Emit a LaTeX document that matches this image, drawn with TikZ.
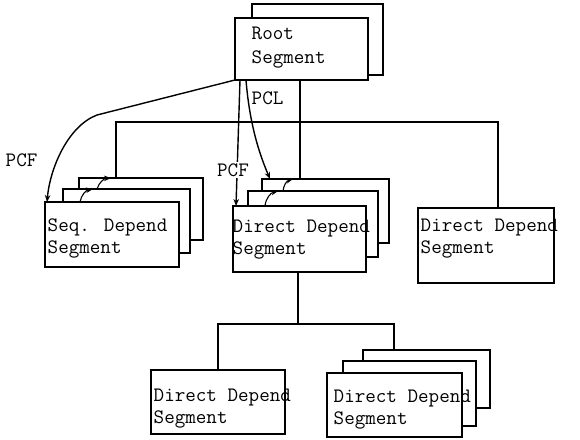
\documentclass[tikz,border=0pt]{standalone}
\usetikzlibrary{arrows.meta,calc}
\newcommand\segbox[5]{\node[seg, minimum width={#4pt-#2pt}, minimum height={#5pt-#3pt}] (#1) at (#2,#3) {};}
\begin{document}
\begin{tikzpicture}[x=1pt,y=-1pt, line width=1.4pt,
  >={Stealth[length=7pt,width=5.5pt]},
  seg/.style={draw, fill=white, anchor=north west, inner sep=0pt, outer sep=0pt},
  txt/.style={font=\fontsize{20.5}{21.5}\ttfamily, inner sep=0pt, anchor=base west, align=left},
  tag/.style={font=\fontsize{20.5}{22}\ttfamily, inner sep=1pt},
  twin/.style={->, line width=1.1pt, bend left=35}]
\useasboundingbox (0,0) rectangle (580,439);

% root segment with its twin behind
\segbox{rootB}{252}{4}{383}{75}
\segbox{root}{235}{18}{368}{80}
\node[txt, font=\fontsize{20.5}{24}\ttfamily] (rootT) at (251,63) {Root\\Segment};

% sequentially dependent stack
\segbox{sback}{79}{178}{203}{240}
\segbox{smid}{63}{189}{190}{253}
\segbox{sfront}{45}{202}{179}{267}
\node[txt] (sT) at (47,253) {Seq. Depend\\Segment};

% direct dependent stack below the root
\segbox{mback}{262}{179}{389}{243}
\segbox{mmid}{248}{191}{378}{257}
\segbox{mfront}{233}{206}{366}{272}
\node[txt] (mT) at (232,254) {Direct Depend\\Segment};

% single direct dependent on the right
\segbox{rbox}{418}{208}{554}{283}
\node[txt] (rT) at (420,253) {Direct Depend\\Segment};

% lower level
\segbox{lbox}{151}{370}{285}{434}
\node[txt] (lT) at (153,423) {Direct Depend\\Segment};
\segbox{bback}{363}{350}{490}{408}
\segbox{bmid}{343}{361}{476}{426}
\segbox{bfront}{327}{373}{462}{437}
\node[txt] (bT) at (333,424) {Direct Depend\\Segment};

% hierarchy connectors
\coordinate (busL) at (116,122);
\coordinate (busR) at (498,122);
\coordinate (busM) at (300,122);
\draw (root.south -| busM) -- (mback.north -| busM);
\draw (sback.north -| busL) -- (busL) -- (busR) -- (rbox.north -| busR);
\coordinate (lbusM) at (298,324);
\coordinate (lbusL) at (218,324);
\coordinate (lbusR) at (394,324);
\draw (mfront.south -| lbusM) -- (lbusM);
\draw (lbox.north -| lbusL) -- (lbusL) -- (lbusR) -- (bback.north -| lbusR);

% parent-child pointers
\draw[->] (root.south west) -- (97,115) .. controls (68,126) and (50,168) .. ($(sfront.north west)+(2,0)$);
\node[tag, anchor=west] (pcf1) at (4,160) {PCF};
\draw[->] ($(root.south west)+(5,0)$) -- ($(mfront.north west)+(3,0)$);
\node[tag, fill=white] (pcf2) at (233,170) {PCF};
\draw[->] ($(root.south west)+(11,0)$) .. controls (250,130) and (262,160) .. ($(mback.north west)+(8,0)$);
\node[tag, anchor=west] (pcl) at (250,98) {PCL};

% twin pointers inside the stacks
\draw[twin] ($(sfront.north west)+(35,0)$) to ($(smid.north west)+(30,0)$);
\draw[twin] ($(smid.north west)+(34,0)$) to ($(sback.north west)+(32,0)$);
\draw[twin] ($(mfront.north west)+(32,0)$) to ($(mmid.north west)+(30,0)$);
\draw[twin] ($(mmid.north west)+(35,0)$) to ($(mback.north west)+(31,0)$);
\end{tikzpicture}
\end{document}
